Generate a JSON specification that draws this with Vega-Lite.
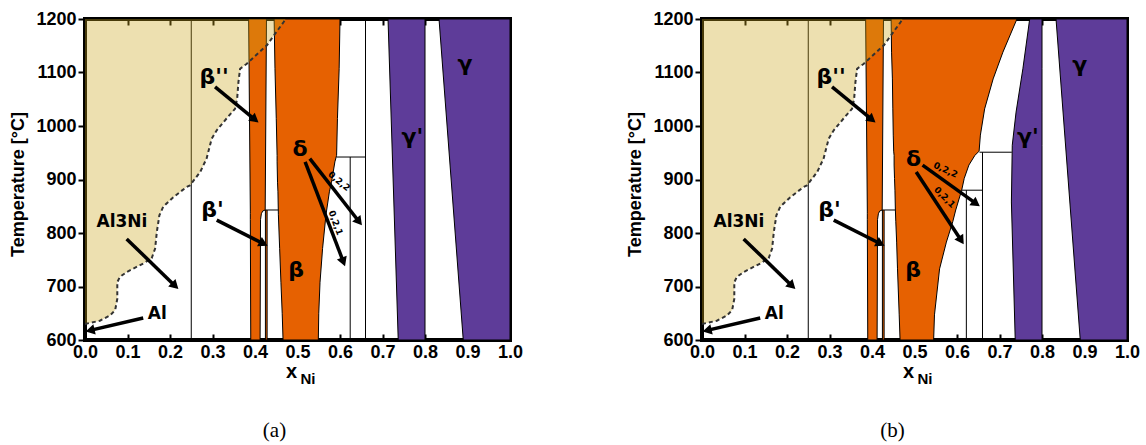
{
"$schema":"https://vega.github.io/schema/vega-lite/v6.json",
"background":"white",
"padding":{"left":7,"top":8,"right":5,"bottom":5},
"spacing":99,
"config":{"view":{"stroke":"black","strokeWidth":4},"axis":{"grid":false,"domain":false}},
"datasets":{
"reg":[
{"p":"ab","id":"b2","ph":"o","T":600,"x1":0.39,"x2":0.412},
{"p":"ab","id":"b2","ph":"o","T":825,"x1":0.389,"x2":0.413},
{"p":"ab","id":"b2","ph":"o","T":836,"x1":0.389,"x2":0.415},
{"p":"ab","id":"b2","ph":"o","T":841,"x1":0.389,"x2":0.418},
{"p":"ab","id":"b2","ph":"o","T":843,"x1":0.389,"x2":0.424},
{"p":"ab","id":"b2","ph":"o","T":1200,"x1":0.385,"x2":0.427},
{"p":"ab","id":"bp","ph":"o","T":600,"x1":0.4245,"x2":0.4285},
{"p":"ab","id":"bp","ph":"o","T":843,"x1":0.4245,"x2":0.4285},
{"p":"a","id":"ba","ph":"o","T":600,"x1":0.466,"x2":0.549},
{"p":"a","id":"ba","ph":"o","T":650,"x1":0.464,"x2":0.55},
{"p":"a","id":"ba","ph":"o","T":708,"x1":0.461,"x2":0.553},
{"p":"a","id":"ba","ph":"o","T":771,"x1":0.458,"x2":0.559},
{"p":"a","id":"ba","ph":"o","T":834,"x1":0.455,"x2":0.567},
{"p":"a","id":"ba","ph":"o","T":877,"x1":0.454,"x2":0.575},
{"p":"a","id":"ba","ph":"o","T":895,"x1":0.453,"x2":0.58},
{"p":"a","id":"ba","ph":"o","T":933,"x1":0.452,"x2":0.588},
{"p":"a","id":"ba","ph":"o","T":945,"x1":0.452,"x2":0.592},
{"p":"a","id":"ba","ph":"o","T":1014,"x1":0.45,"x2":0.594},
{"p":"a","id":"ba","ph":"o","T":1107,"x1":0.447,"x2":0.598},
{"p":"a","id":"ba","ph":"o","T":1200,"x1":0.445,"x2":0.6},
{"p":"b","id":"bb","ph":"o","T":600,"x1":0.466,"x2":0.545},
{"p":"b","id":"bb","ph":"o","T":647,"x1":0.464,"x2":0.547},
{"p":"b","id":"bb","ph":"o","T":733,"x1":0.46,"x2":0.559},
{"p":"b","id":"bb","ph":"o","T":783,"x1":0.458,"x2":0.575},
{"p":"b","id":"bb","ph":"o","T":821,"x1":0.456,"x2":0.59},
{"p":"b","id":"bb","ph":"o","T":843,"x1":0.455,"x2":0.597},
{"p":"b","id":"bb","ph":"o","T":880,"x1":0.454,"x2":0.611},
{"p":"b","id":"bb","ph":"o","T":902,"x1":0.453,"x2":0.617},
{"p":"b","id":"bb","ph":"o","T":927,"x1":0.452,"x2":0.628},
{"p":"b","id":"bb","ph":"o","T":945,"x1":0.452,"x2":0.642},
{"p":"b","id":"bb","ph":"o","T":953,"x1":0.451,"x2":0.652},
{"p":"b","id":"bb","ph":"o","T":983,"x1":0.45,"x2":0.655},
{"p":"b","id":"bb","ph":"o","T":1032,"x1":0.449,"x2":0.665},
{"p":"b","id":"bb","ph":"o","T":1088,"x1":0.448,"x2":0.685},
{"p":"b","id":"bb","ph":"o","T":1138,"x1":0.446,"x2":0.708},
{"p":"b","id":"bb","ph":"o","T":1200,"x1":0.445,"x2":0.741},
{"p":"a","id":"gpa","ph":"p","T":600,"x1":0.737,"x2":0.8},
{"p":"a","id":"gpa","ph":"p","T":1200,"x1":0.713,"x2":0.8},
{"p":"b","id":"gpb","ph":"p","T":600,"x1":0.737,"x2":0.8},
{"p":"b","id":"gpb","ph":"p","T":858,"x1":0.728,"x2":0.8},
{"p":"b","id":"gpb","ph":"p","T":964,"x1":0.73,"x2":0.8},
{"p":"b","id":"gpb","ph":"p","T":1026,"x1":0.739,"x2":0.8},
{"p":"b","id":"gpb","ph":"p","T":1107,"x1":0.755,"x2":0.8},
{"p":"b","id":"gpb","ph":"p","T":1200,"x1":0.771,"x2":0.8},
{"p":"ab","id":"g","ph":"p","T":600,"x1":0.89,"x2":1.0},
{"p":"ab","id":"g","ph":"p","T":1200,"x1":0.833,"x2":1.0}
],
"liq":[
{"T":630,"lo":0,"d":0.0},{"T":636,"lo":0,"d":0.035},{"T":646,"lo":0,"d":0.059},{"T":656,"lo":0,"d":0.071},{"T":677,"lo":0,"d":0.076},{"T":708,"lo":0,"d":0.076},{"T":718,"lo":0,"d":0.082},{"T":727,"lo":0,"d":0.098},{"T":743,"lo":0,"d":0.137},{"T":753,"lo":0,"d":0.157},{"T":771,"lo":0,"d":0.165},{"T":802,"lo":0,"d":0.169},{"T":833,"lo":0,"d":0.175},{"T":849,"lo":0,"d":0.184},{"T":867,"lo":0,"d":0.208},{"T":886,"lo":0,"d":0.239},{"T":889,"lo":0,"d":0.247},{"T":914,"lo":0,"d":0.271},{"T":939,"lo":0,"d":0.286},{"T":976,"lo":0,"d":0.298},{"T":992,"lo":0,"d":0.31},{"T":1014,"lo":0,"d":0.333},{"T":1032,"lo":0,"d":0.353},{"T":1051,"lo":0,"d":0.358},{"T":1082,"lo":0,"d":0.361},{"T":1107,"lo":0,"d":0.365},{"T":1116,"lo":0,"d":0.38},{"T":1151,"lo":0,"d":0.428},{"T":1194,"lo":0,"d":0.467},{"T":1200,"lo":0,"d":0.472}
],
"seg":[
{"p":"ab","xa":0.25,"ta":600,"xb":0.25,"tb":1200},
{"p":"ab","xa":0.4285,"ta":843,"xb":0.455,"tb":843},
{"p":"a","xa":0.592,"ta":942,"xb":0.66,"tb":942},
{"p":"a","xa":0.624,"ta":600,"xb":0.624,"tb":942},
{"p":"a","xa":0.66,"ta":600,"xb":0.66,"tb":1200},
{"p":"b","xa":0.653,"ta":951,"xb":0.729,"tb":951},
{"p":"b","xa":0.66,"ta":600,"xb":0.66,"tb":951},
{"p":"b","xa":0.611,"ta":880,"xb":0.66,"tb":880},
{"p":"b","xa":0.622,"ta":600,"xb":0.622,"tb":880}
],
"arr":[
{"p":"ab","xa":0.306,"ta":1073,"xb":0.4,"tb":1012,"hd":129},
{"p":"ab","xa":0.098,"ta":789,"xb":0.212,"tb":701,"hd":134},
{"p":"ab","xa":0.137,"ta":641,"xb":0.012,"tb":618,"hd":257},
{"p":"ab","xa":0.31,"ta":824,"xb":0.42,"tb":780,"hd":117},
{"p":"a","xa":0.529,"ta":939,"xb":0.645,"tb":821,"hd":142},
{"p":"a","xa":0.518,"ta":933,"xb":0.608,"tb":746,"hd":159},
{"p":"b","xa":0.519,"ta":927,"xb":0.645,"tb":855,"hd":126},
{"p":"b","xa":0.504,"ta":914,"xb":0.61,"tb":786,"hd":147}
],
"lab":[
{"p":"ab","k":"g","txt":"β''","x":0.304,"T":1092},
{"p":"ab","k":"g","txt":"β'","x":0.3,"T":843},
{"p":"ab","k":"g","txt":"β","x":0.497,"T":731},
{"p":"ab","k":"t","txt":"Al3Ni","x":0.087,"T":821},
{"p":"ab","k":"t","txt":"Al","x":0.17,"T":649},
{"p":"a","k":"g","txt":"δ","x":0.506,"T":957},
{"p":"a","k":"g","txt":"γ'","x":0.77,"T":979},
{"p":"a","k":"g","txt":"γ","x":0.894,"T":1116},
{"p":"a","k":"s1","txt":"0,2,2","x":0.598,"T":897},
{"p":"a","k":"s2","txt":"0,2,1","x":0.59,"T":819},
{"p":"b","k":"g","txt":"δ","x":0.498,"T":938},
{"p":"b","k":"g","txt":"γ'","x":0.767,"T":979},
{"p":"b","k":"g","txt":"γ","x":0.889,"T":1114},
{"p":"b","k":"s1","txt":"0,2,2","x":0.573,"T":918},
{"p":"b","k":"s2","txt":"0,2,1","x":0.571,"T":867}
]
},
"hconcat":[
{
"width":425,"height":321,
"title":{"text":"(a)","orient":"bottom","font":"Liberation Serif","fontSize":21,"fontWeight":"normal","color":"black","offset":34,"dx":-23,"anchor":"middle"},
"resolve":{"axis":{"x":"independent","y":"independent"}},
"layer":[
{"data":{"name":"reg"},"transform":[{"filter":"indexof(datum.p,'a')>=0"}],
 "mark":{"type":"area","orient":"horizontal","stroke":"black","strokeWidth":1,"clip":true},
 "encoding":{
  "y":{"field":"T","type":"quantitative","scale":{"domain":[600,1200],"nice":false,"zero":false},
   "axis":{"orient":"left","values":[600,700,800,900,1000,1100,1200],"format":"d","labelFont":"Liberation Sans","labelFontSize":18,"labelFontWeight":"bold","labelColor":"black","tickSize":7,"tickWidth":2,"tickColor":"black","labelPadding":2,"labelOverlap":false,"title":"Temperature [°C]","titleFont":"Liberation Sans","titleFontSize":18,"titleFontWeight":"bold","titleColor":"black","titleX":-67,"titleY":165,"titleAngle":-90,"titleAlign":"center","titleBaseline":"middle"}},
  "x":{"field":"x1","type":"quantitative","stack":null,"scale":{"domain":[0,1],"nice":false,"zero":false},
   "axis":{"orient":"bottom","values":[0,0.1,0.2,0.3,0.4,0.5,0.6,0.7,0.8,0.9,1],"format":".1f","labelFont":"Liberation Sans","labelFontSize":18,"labelFontWeight":"bold","labelColor":"black","labelFlush":false,"labelOverlap":false,"tickSize":-6,"tickWidth":2,"tickColor":"black","labelPadding":9,"title":"x","titleFont":"Liberation Sans","titleFontSize":20,"titleFontWeight":"bold","titleColor":"black","titleX":206,"titleY":37,"titleAlign":"center","titleBaseline":"alphabetic"}},
  "x2":{"field":"x2"},
  "fill":{"field":"ph","type":"nominal","scale":{"domain":["o","p"],"range":["#e66101","#5e3c99"]},"legend":null},
  "detail":{"field":"id","type":"nominal"}
 }},
{"data":{"name":"seg"},"transform":[{"filter":"indexof(datum.p,'a')>=0"}],
 "mark":{"type":"rule","color":"black","strokeWidth":1},
 "encoding":{"x":{"field":"xa","type":"quantitative","scale":{"domain":[0,1]},"axis":null},"x2":{"field":"xb"},"y":{"field":"ta","type":"quantitative","scale":{"domain":[600,1200]},"axis":null},"y2":{"field":"tb"}}},
{"data":{"name":"liq"},
 "mark":{"type":"area","orient":"horizontal","fill":"#CCA61D","opacity":0.35,"clip":true},
 "encoding":{"y":{"field":"T","type":"quantitative","scale":{"domain":[600,1200]},"axis":null},"x":{"field":"lo","type":"quantitative","stack":null,"scale":{"domain":[0,1]},"axis":null},"x2":{"field":"d"}}},
{"data":{"name":"liq"},
 "mark":{"type":"line","stroke":"#333333","strokeWidth":2,"strokeDash":[4,3],"clip":true},
 "encoding":{
  "y":{"field":"T","type":"quantitative","scale":{"domain":[600,1200]},"axis":{"orient":"right","values":[600,700,800,900,1000,1100,1200],"labels":false,"tickSize":-6,"tickWidth":2,"tickColor":"black","title":null}},
  "x":{"field":"d","type":"quantitative","scale":{"domain":[0,1]},"axis":{"orient":"top","values":[0,0.1,0.2,0.3,0.4,0.5,0.6,0.7,0.8,0.9,1],"labels":false,"tickSize":-6,"tickWidth":2,"tickColor":"black","title":null}},
  "order":{"field":"T","type":"quantitative"}}},
{"data":{"name":"arr"},"transform":[{"filter":"indexof(datum.p,'a')>=0"}],
 "mark":{"type":"rule","color":"black","strokeWidth":3.5},
 "encoding":{"x":{"field":"xa","type":"quantitative","scale":{"domain":[0,1]},"axis":null},"x2":{"field":"xb"},"y":{"field":"ta","type":"quantitative","scale":{"domain":[600,1200]},"axis":null},"y2":{"field":"tb"}}},
{"data":{"name":"arr"},"transform":[{"filter":"indexof(datum.p,'a')>=0"}],
 "mark":{"type":"point","shape":"triangle-up","filled":true,"color":"black","opacity":1,"size":110},
 "encoding":{"x":{"field":"xb","type":"quantitative","scale":{"domain":[0,1]},"axis":null},"y":{"field":"tb","type":"quantitative","scale":{"domain":[600,1200]},"axis":null},"angle":{"field":"hd","type":"quantitative","scale":null}}},
{"data":{"name":"lab"},"transform":[{"filter":"indexof(datum.p,'a')>=0 && datum.k=='g'"}],
 "mark":{"type":"text","font":"DejaVu Sans","fontSize":22,"fontWeight":"bold","color":"black"},
 "encoding":{"x":{"field":"x","type":"quantitative","scale":{"domain":[0,1]},
   "axis":{"orient":"bottom","labels":false,"ticks":false,"title":"Ni","titleFont":"Liberation Sans","titleFontSize":15,"titleFontWeight":"bold","titleColor":"black","titleX":215,"titleY":43,"titleAlign":"left","titleBaseline":"alphabetic"}},
  "y":{"field":"T","type":"quantitative","scale":{"domain":[600,1200]},"axis":null},"text":{"field":"txt","type":"nominal"}}},
{"data":{"name":"lab"},"transform":[{"filter":"indexof(datum.p,'a')>=0 && datum.k=='t'"}],
 "mark":{"type":"text","font":"DejaVu Sans","fontSize":17,"fontWeight":"bold","color":"black"},
 "encoding":{"x":{"field":"x","type":"quantitative","scale":{"domain":[0,1]},"axis":null},"y":{"field":"T","type":"quantitative","scale":{"domain":[600,1200]},"axis":null},"text":{"field":"txt","type":"nominal"}}},
{"data":{"name":"lab"},"transform":[{"filter":"datum.p=='a' && datum.k=='s1'"}],
 "mark":{"type":"text","font":"DejaVu Sans","fontSize":9,"fontWeight":"bold","color":"black","angle":40},
 "encoding":{"x":{"field":"x","type":"quantitative","scale":{"domain":[0,1]},"axis":null},"y":{"field":"T","type":"quantitative","scale":{"domain":[600,1200]},"axis":null},"text":{"field":"txt","type":"nominal"}}},
{"data":{"name":"lab"},"transform":[{"filter":"datum.p=='a' && datum.k=='s2'"}],
 "mark":{"type":"text","font":"DejaVu Sans","fontSize":9,"fontWeight":"bold","color":"black","angle":70},
 "encoding":{"x":{"field":"x","type":"quantitative","scale":{"domain":[0,1]},"axis":null},"y":{"field":"T","type":"quantitative","scale":{"domain":[600,1200]},"axis":null},"text":{"field":"txt","type":"nominal"}}}
]
},
{
"width":425,"height":321,
"title":{"text":"(b)","orient":"bottom","font":"Liberation Serif","fontSize":21,"fontWeight":"normal","color":"black","offset":34,"dx":-22,"anchor":"middle"},
"resolve":{"axis":{"x":"independent","y":"independent"}},
"layer":[
{"data":{"name":"reg"},"transform":[{"filter":"indexof(datum.p,'b')>=0"}],
 "mark":{"type":"area","orient":"horizontal","stroke":"black","strokeWidth":1,"clip":true},
 "encoding":{
  "y":{"field":"T","type":"quantitative","scale":{"domain":[600,1200],"nice":false,"zero":false},
   "axis":{"orient":"left","values":[600,700,800,900,1000,1100,1200],"format":"d","labelFont":"Liberation Sans","labelFontSize":18,"labelFontWeight":"bold","labelColor":"black","tickSize":7,"tickWidth":2,"tickColor":"black","labelPadding":2,"labelOverlap":false,"title":"Temperature [°C]","titleFont":"Liberation Sans","titleFontSize":18,"titleFontWeight":"bold","titleColor":"black","titleX":-67,"titleY":165,"titleAngle":-90,"titleAlign":"center","titleBaseline":"middle"}},
  "x":{"field":"x1","type":"quantitative","stack":null,"scale":{"domain":[0,1],"nice":false,"zero":false},
   "axis":{"orient":"bottom","values":[0,0.1,0.2,0.3,0.4,0.5,0.6,0.7,0.8,0.9,1],"format":".1f","labelFont":"Liberation Sans","labelFontSize":18,"labelFontWeight":"bold","labelColor":"black","labelFlush":false,"labelOverlap":false,"tickSize":-6,"tickWidth":2,"tickColor":"black","labelPadding":9,"title":"x","titleFont":"Liberation Sans","titleFontSize":20,"titleFontWeight":"bold","titleColor":"black","titleX":206,"titleY":37,"titleAlign":"center","titleBaseline":"alphabetic"}},
  "x2":{"field":"x2"},
  "fill":{"field":"ph","type":"nominal","scale":{"domain":["o","p"],"range":["#e66101","#5e3c99"]},"legend":null},
  "detail":{"field":"id","type":"nominal"}
 }},
{"data":{"name":"seg"},"transform":[{"filter":"indexof(datum.p,'b')>=0"}],
 "mark":{"type":"rule","color":"black","strokeWidth":1},
 "encoding":{"x":{"field":"xa","type":"quantitative","scale":{"domain":[0,1]},"axis":null},"x2":{"field":"xb"},"y":{"field":"ta","type":"quantitative","scale":{"domain":[600,1200]},"axis":null},"y2":{"field":"tb"}}},
{"data":{"name":"liq"},
 "mark":{"type":"area","orient":"horizontal","fill":"#CCA61D","opacity":0.35,"clip":true},
 "encoding":{"y":{"field":"T","type":"quantitative","scale":{"domain":[600,1200]},"axis":null},"x":{"field":"lo","type":"quantitative","stack":null,"scale":{"domain":[0,1]},"axis":null},"x2":{"field":"d"}}},
{"data":{"name":"liq"},
 "mark":{"type":"line","stroke":"#333333","strokeWidth":2,"strokeDash":[4,3],"clip":true},
 "encoding":{
  "y":{"field":"T","type":"quantitative","scale":{"domain":[600,1200]},"axis":{"orient":"right","values":[600,700,800,900,1000,1100,1200],"labels":false,"tickSize":-6,"tickWidth":2,"tickColor":"black","title":null}},
  "x":{"field":"d","type":"quantitative","scale":{"domain":[0,1]},"axis":{"orient":"top","values":[0,0.1,0.2,0.3,0.4,0.5,0.6,0.7,0.8,0.9,1],"labels":false,"tickSize":-6,"tickWidth":2,"tickColor":"black","title":null}},
  "order":{"field":"T","type":"quantitative"}}},
{"data":{"name":"arr"},"transform":[{"filter":"indexof(datum.p,'b')>=0"}],
 "mark":{"type":"rule","color":"black","strokeWidth":3.5},
 "encoding":{"x":{"field":"xa","type":"quantitative","scale":{"domain":[0,1]},"axis":null},"x2":{"field":"xb"},"y":{"field":"ta","type":"quantitative","scale":{"domain":[600,1200]},"axis":null},"y2":{"field":"tb"}}},
{"data":{"name":"arr"},"transform":[{"filter":"indexof(datum.p,'b')>=0"}],
 "mark":{"type":"point","shape":"triangle-up","filled":true,"color":"black","opacity":1,"size":110},
 "encoding":{"x":{"field":"xb","type":"quantitative","scale":{"domain":[0,1]},"axis":null},"y":{"field":"tb","type":"quantitative","scale":{"domain":[600,1200]},"axis":null},"angle":{"field":"hd","type":"quantitative","scale":null}}},
{"data":{"name":"lab"},"transform":[{"filter":"indexof(datum.p,'b')>=0 && datum.k=='g'"}],
 "mark":{"type":"text","font":"DejaVu Sans","fontSize":22,"fontWeight":"bold","color":"black"},
 "encoding":{"x":{"field":"x","type":"quantitative","scale":{"domain":[0,1]},
   "axis":{"orient":"bottom","labels":false,"ticks":false,"title":"Ni","titleFont":"Liberation Sans","titleFontSize":15,"titleFontWeight":"bold","titleColor":"black","titleX":215,"titleY":43,"titleAlign":"left","titleBaseline":"alphabetic"}},
  "y":{"field":"T","type":"quantitative","scale":{"domain":[600,1200]},"axis":null},"text":{"field":"txt","type":"nominal"}}},
{"data":{"name":"lab"},"transform":[{"filter":"indexof(datum.p,'b')>=0 && datum.k=='t'"}],
 "mark":{"type":"text","font":"DejaVu Sans","fontSize":17,"fontWeight":"bold","color":"black"},
 "encoding":{"x":{"field":"x","type":"quantitative","scale":{"domain":[0,1]},"axis":null},"y":{"field":"T","type":"quantitative","scale":{"domain":[600,1200]},"axis":null},"text":{"field":"txt","type":"nominal"}}},
{"data":{"name":"lab"},"transform":[{"filter":"datum.p=='b' && datum.k=='s1'"}],
 "mark":{"type":"text","font":"DejaVu Sans","fontSize":9,"fontWeight":"bold","color":"black","angle":25},
 "encoding":{"x":{"field":"x","type":"quantitative","scale":{"domain":[0,1]},"axis":null},"y":{"field":"T","type":"quantitative","scale":{"domain":[600,1200]},"axis":null},"text":{"field":"txt","type":"nominal"}}},
{"data":{"name":"lab"},"transform":[{"filter":"datum.p=='b' && datum.k=='s2'"}],
 "mark":{"type":"text","font":"DejaVu Sans","fontSize":9,"fontWeight":"bold","color":"black","angle":45},
 "encoding":{"x":{"field":"x","type":"quantitative","scale":{"domain":[0,1]},"axis":null},"y":{"field":"T","type":"quantitative","scale":{"domain":[600,1200]},"axis":null},"text":{"field":"txt","type":"nominal"}}}
]
}
]
}
